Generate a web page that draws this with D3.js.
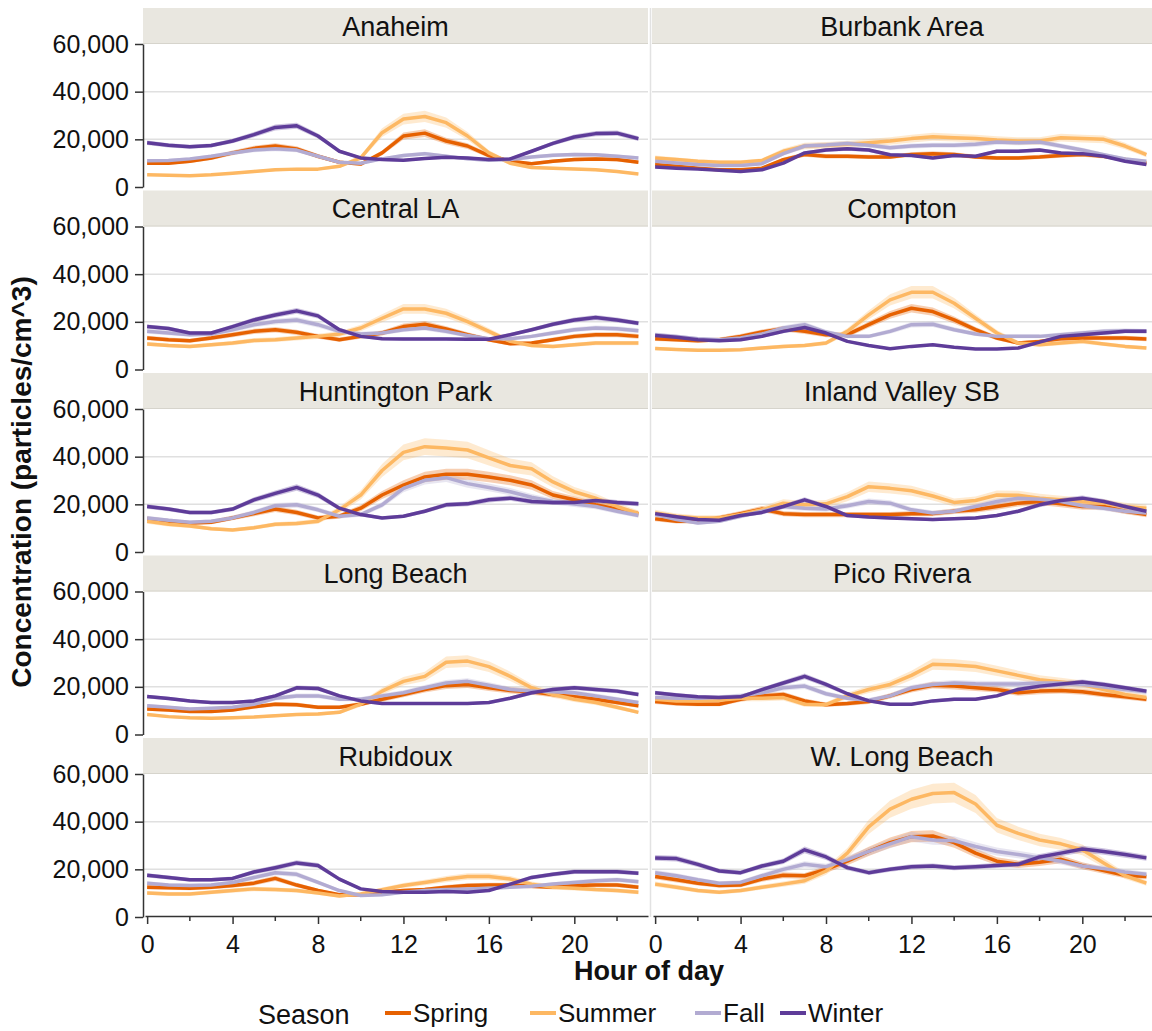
<!DOCTYPE html>
<html>
<head>
<meta charset="utf-8">
<script src="https://cdn.jsdelivr.net/npm/d3@7"></script>
<style>
  body { margin: 0; background: #fff; }
  svg { font-family: "Liberation Sans", Arial, sans-serif; }
</style>
</head>
<body>
<script>
// values in thousands of particles/cm^3, hours 0..23, order: Spring, Summer, Fall, Winter
var seasons = ["Spring", "Summer", "Fall", "Winter"];
var colors = ["#e66101", "#fdb863", "#b2abd2", "#5e3c99"];
var hourTicks = [0, 4, 8, 12, 16, 20];
var minorTicks = [2, 6, 10, 14, 18, 22];
var yTicks = [0, 20, 40, 60];

var anaheim = [
  [10, 10, 10.8, 12.2, 14.3, 16.2, 17.2, 16, 12.9, 10.4, 9.6, 14.3, 21.4, 22.6, 19.3, 17.2, 13.2, 10.8, 9.8, 10.8, 11.5, 11.8, 11.5, 10.4],
  [5.1, 4.9, 4.7, 5.1, 5.8, 6.5, 7.2, 7.5, 7.5, 8.7, 12.2, 22.8, 28.5, 29.6, 27, 21.4, 14.3, 10, 8.2, 7.9, 7.6, 7.2, 6.5, 5.5],
  [11, 11.1, 11.8, 12.9, 14.3, 15.5, 16, 15.5, 12.9, 10.4, 10, 11.8, 13.2, 14, 12.9, 11.8, 11.2, 11.5, 12.6, 13.3, 13.6, 13.5, 12.9, 12.2],
  [18.6, 17.5, 16.9, 17.4, 19.3, 22, 25, 25.7, 21.4, 15, 12.2, 11.5, 11.2, 12, 12.5, 12.2, 11.5, 11.8, 15, 18.3, 21, 22.4, 22.6, 20.3]
];
var burbank = [
  [9.4, 8.7, 7.9, 7.2, 7.2, 7.9, 11.5, 13.6, 12.9, 12.9, 12.6, 12.6, 13.6, 14, 13.6, 12.6, 12.2, 12.2, 12.6, 13.2, 13.6, 12.9, 11.5, 10],
  [12.2, 11.5, 10.8, 10.4, 10.4, 11.1, 15, 17.2, 17.5, 17.9, 18.6, 19.3, 20.3, 21.1, 20.7, 20.3, 19.7, 19.3, 19.3, 20.7, 20.3, 20, 17.2, 13.6],
  [10.8, 10.1, 9.4, 9, 9, 9.8, 14, 17.2, 17.6, 18.3, 17.5, 16.5, 17.2, 17.5, 17.5, 17.9, 18.9, 18.6, 18.9, 17.2, 15.5, 13.6, 11.8, 10.8],
  [8.4, 7.9, 7.5, 7, 6.5, 7.2, 10, 14.3, 15.5, 16, 15.5, 13.5, 13.2, 12.2, 13.2, 12.9, 15, 15, 15.5, 14.3, 14, 12.9, 10.8, 9.4]
];
var centralLA = [
  [13.2, 12.5, 12.1, 13.2, 14.6, 16, 16.7, 15.6, 13.9, 12.5, 13.9, 15.3, 18, 19, 17, 14.6, 12.5, 10.8, 11.1, 12.5, 13.9, 14.6, 14.6, 13.9],
  [10.7, 10.1, 9.7, 10.4, 11.1, 12.2, 12.5, 13.2, 13.9, 14.9, 17.4, 21.5, 25.4, 25.4, 23.6, 20.1, 16, 11.8, 10.1, 9.7, 10.4, 11.1, 11.1, 11.1],
  [16, 15.3, 14.6, 14.9, 16.7, 18.8, 20.1, 20.8, 18.8, 16, 14.9, 15.3, 16.7, 17.4, 16, 14.3, 12.9, 12.9, 13.9, 15.3, 16.7, 17.4, 17.1, 16.3],
  [18, 17.2, 15.3, 15.3, 18, 20.8, 22.9, 24.6, 22.5, 16.7, 13.9, 12.9, 12.8, 12.8, 12.8, 12.7, 12.7, 14.6, 16.7, 19, 20.8, 21.8, 20.8, 19.4]
];
var compton = [
  [12.9, 12.5, 12.1, 12.5, 13.9, 15.7, 17.1, 16, 14.6, 14.6, 18.8, 22.9, 25.7, 24.3, 20.8, 16.7, 13.2, 11.1, 11.8, 12.9, 13.2, 13.2, 13.2, 12.8],
  [8.8, 8.4, 8.1, 8.1, 8.3, 9, 9.7, 10.1, 11.1, 16, 22.9, 29.2, 32.4, 32.4, 27.8, 21.5, 15.3, 11.1, 10.4, 11.1, 11.8, 10.7, 9.7, 9],
  [14.6, 13.9, 12.9, 12.5, 13.2, 14.9, 17.4, 18.8, 15.7, 13.9, 13.9, 16, 18.8, 19, 16.7, 14.9, 13.9, 13.9, 13.9, 14.6, 15.3, 16, 16.3, 16],
  [14.3, 13.5, 12.5, 12.1, 12.5, 13.9, 16, 17.6, 15.3, 11.8, 10.1, 8.75, 9.7, 10.4, 9.3, 8.6, 8.6, 9, 11.5, 13.9, 14.6, 15.3, 16, 16]
];
var huntingtonPark = [
  [13.9, 12.9, 12.2, 12.5, 14.3, 16.1, 18, 16.6, 14.3, 15, 18.4, 23.9, 28.1, 31.5, 32.6, 32.6, 31.5, 30.1, 28.1, 23.9, 21.9, 19.8, 18, 16.1],
  [12.9, 11.6, 10.9, 9.8, 9.2, 10.2, 11.6, 12, 12.9, 17.7, 23.9, 34.2, 41.8, 44.2, 43.6, 42.8, 39.5, 36.3, 34.9, 29.4, 25.3, 22.6, 19.1, 16.1],
  [14.3, 13.3, 12.5, 12.9, 14.3, 16.6, 19.4, 19.8, 17.7, 15, 15.7, 19.8, 26.7, 30.1, 31.2, 28.7, 27.1, 25.3, 23, 21.2, 20.1, 19.1, 17.1, 15.3],
  [19.1, 18, 16.6, 16.6, 18, 21.9, 24.6, 27.1, 23.9, 18.4, 15.7, 14.3, 15, 17.1, 19.8, 20.2, 21.9, 22.6, 21.2, 20.8, 20.8, 21.6, 20.8, 20.2]
];
var inlandValley = [
  [13.9, 12.9, 12.9, 14.3, 16.1, 18, 16.1, 15.7, 15.7, 15.7, 15.7, 15.7, 16.1, 16.1, 17.1, 17.7, 19.1, 20.5, 21.2, 20.2, 19.1, 19.1, 17.1, 15.7],
  [16.4, 15, 14.3, 14.3, 15.7, 17.7, 20.5, 19.8, 20.2, 23.2, 27.4, 26.7, 25.7, 23.5, 20.8, 21.6, 23.9, 23.8, 22.6, 21.9, 21.2, 20.5, 19.1, 18.4],
  [15.7, 13.6, 12.2, 12.9, 15, 17.1, 19.1, 18.4, 18, 19.4, 21.2, 20.5, 17.7, 16.4, 17.1, 19.1, 21.2, 22.6, 22.1, 21.2, 19.4, 18.4, 17.1, 16.4],
  [16.1, 14.8, 13.6, 13.3, 15.3, 16.6, 19.1, 21.9, 19.1, 15.3, 14.7, 14.3, 14, 13.6, 14, 14.3, 15.3, 17.1, 19.8, 21.6, 22.6, 21.2, 19.1, 17.1]
];
var longBeach = [
  [10.7, 10.3, 9.7, 9.7, 10.3, 11.6, 12.7, 12.5, 11.4, 11.4, 12.7, 14.8, 16.8, 18.9, 20.5, 21, 19.6, 18.5, 17.9, 16.8, 15.8, 14.8, 13.4, 12.1],
  [8.4, 7.5, 7, 6.8, 7, 7.3, 7.9, 8.4, 8.6, 9.3, 12.7, 18.2, 22.3, 24.4, 30.3, 30.8, 28.5, 24.4, 19.6, 16.8, 14.8, 13.4, 11.4, 9.3],
  [12.1, 11.4, 10.7, 11, 11.4, 12.7, 15.2, 16.2, 16.2, 14.8, 14.8, 16.2, 17.5, 19.6, 21.6, 22.3, 20.7, 18.9, 18.2, 17.9, 17.5, 16.2, 14.8, 13.4],
  [15.9, 15.1, 14.1, 13.4, 13.4, 14.1, 16.2, 19.6, 19.3, 16.2, 14.1, 13, 13, 13, 13, 13, 13.4, 15.2, 17.5, 18.9, 19.6, 18.9, 18.2, 16.8]
];
var picoRivera = [
  [13.8, 13, 12.7, 12.7, 14.8, 16.2, 16.8, 14.1, 12.5, 13, 13.8, 16.2, 18.9, 20.7, 20.3, 19.6, 18.9, 17.5, 18.2, 18.5, 17.9, 16.8, 15.8, 14.8],
  [14.8, 14.1, 14.1, 14.4, 15.2, 15.2, 15.5, 12.7, 12.5, 16.2, 18.9, 21, 24.8, 29.5, 29.2, 28.5, 26.7, 24.8, 23, 22, 21, 18.9, 16.8, 15.5],
  [15.5, 15.2, 15.2, 15.5, 16.2, 17.5, 19.6, 20.3, 17.1, 15.2, 14.4, 16.2, 19.6, 21, 21.6, 21.3, 21.2, 21.2, 21.6, 21.6, 21, 19.9, 18.9, 17.9],
  [17.5, 16.6, 15.8, 15.5, 15.8, 18.8, 21.6, 24.4, 21, 17.1, 14.1, 12.7, 12.7, 14.1, 14.8, 14.8, 16.2, 18.9, 20.3, 21.2, 22, 21, 19.6, 18.2]
];
var rubidoux = [
  [12.5, 12.3, 12.1, 12.5, 13.2, 14.2, 16.2, 13.4, 11.1, 9.3, 9.3, 10.4, 11.1, 11.5, 12.5, 13.2, 13.4, 13.4, 12.9, 12.5, 13.2, 13.4, 13.4, 12.5],
  [10.1, 9.7, 9.7, 10.4, 11.1, 11.8, 11.5, 11.1, 10.1, 8.8, 9.7, 11.5, 13.2, 14.5, 15.9, 17, 17, 15.9, 13.8, 12.5, 12.1, 11.5, 11.1, 10.4],
  [14.2, 13.4, 13.2, 13.4, 14.5, 16.6, 18.6, 17.9, 14.5, 11.1, 9, 9.3, 10.4, 11.1, 11.5, 11.8, 12.1, 12.5, 12.9, 13.8, 14.5, 15.2, 15.6, 14.8],
  [17.5, 16.6, 15.6, 15.6, 16.2, 18.9, 20.7, 22.7, 21.6, 15.9, 11.8, 10.7, 10.4, 10.4, 10.7, 10.4, 11.1, 13.8, 16.6, 17.9, 19, 19, 19, 18.4]
];
var wLongBeach = [
  [17, 15.6, 14.2, 13.2, 13.4, 15.9, 17.5, 17.3, 20, 23.4, 27.5, 31.2, 33.7, 34, 31.2, 26.8, 23.4, 22.1, 23, 24.2, 21.5, 19.5, 17.5, 17],
  [13.8, 12.5, 11.1, 10.4, 11.1, 12.5, 13.8, 15.2, 19.3, 26.8, 37.8, 45.3, 49.4, 51.8, 52.2, 47.4, 38.5, 35.1, 32.3, 30.7, 28.2, 22.7, 17.3, 14.2],
  [18.6, 17.3, 15.6, 14.2, 14.5, 17.3, 20, 22.1, 21.1, 24.1, 27.5, 30.7, 33.7, 32.3, 32, 29.6, 27.5, 26.2, 24.8, 23.4, 21.4, 20.3, 18.9, 17.9],
  [24.8, 24.5, 22.1, 19.3, 18.6, 21.4, 23.4, 28.2, 25.2, 20.7, 18.6, 20, 21.1, 21.4, 20.7, 21.1, 21.6, 22.1, 25.2, 26.8, 28.5, 27.5, 26.2, 24.8]
];

var siteNames = ["Anaheim", "Burbank Area", "Central LA", "Compton", "Huntington Park",
  "Inland Valley SB", "Long Beach", "Pico Rivera", "Rubidoux", "W. Long Beach"];
var siteData = [anaheim, burbank, centralLA, compton, huntingtonPark,
  inlandValley, longBeach, picoRivera, rubidoux, wLongBeach];
// relative half-width of the shaded interval per season
var bandRel = [0.07, 0.08, 0.06, 0.05];

var width = 1152, height = 1031;
var colX = [145, 653], panelW = 503;
var plotH = 143, stripH = 36, rowStep = 182.5, firstBottom = 187;

var svg = d3.select("body").append("svg")
    .attr("width", width)
    .attr("height", height);

// column separator
svg.append("line")
    .attr("x1", 650.5).attr("x2", 650.5)
    .attr("y1", 8).attr("y2", 917)
    .attr("stroke", "#e2e2e2").attr("stroke-width", 1.5);

var fmt = d3.format(",");

siteNames.forEach(function(name, i) {
    var col = i % 2, row = Math.floor(i / 2);
    var x0 = colX[col];
    var bottom = firstBottom + rowStep * row;
    var top = bottom - plotH;

    var x = d3.scaleLinear().domain([-0.1, 23.45]).range([x0, x0 + panelW]);
    var y = d3.scaleLinear().domain([0, 60]).range([bottom, top]);

    var g = svg.append("g");

    // strip header
    g.append("rect")
        .attr("x", col == 0 ? 143 : 652)
        .attr("y", top - stripH)
        .attr("width", col == 0 ? 505 : 502)
        .attr("height", stripH)
        .attr("fill", "#e9e7e0");
    g.append("line")
        .attr("x1", col == 0 ? 143 : 652).attr("x2", col == 0 ? 648 : 1152)
        .attr("y1", top - 0.5).attr("y2", top - 0.5)
        .attr("stroke", "#d6d4cc");
    g.append("text")
        .attr("x", (col == 0 ? 143 + 505 / 2 : 652 + 500 / 2))
        .attr("y", top - stripH / 2 + 9.5)
        .attr("text-anchor", "middle")
        .attr("font-size", 27)
        .attr("fill", "#111")
        .text(name);

    // gridlines
    g.selectAll(".grid")
        .data([20, 40])
        .enter().append("line")
        .attr("x1", col == 0 ? 143 : 652).attr("x2", col == 0 ? 648 : 1152)
        .attr("y1", function(d) { return y(d); })
        .attr("y2", function(d) { return y(d); })
        .attr("stroke", "#e0e0e0").attr("stroke-width", 1.5);

    // y axis on the left column
    if (col == 0) {
        var ya = g.append("g")
            .attr("transform", "translate(143,0)")
            .call(d3.axisLeft(y).tickValues(yTicks)
                .tickFormat(function(d) { return fmt(d * 1000); })
                .tickSize(8).tickSizeOuter(0).tickPadding(6));
        ya.select(".domain").attr("stroke", "#333").attr("stroke-width", 1.5);
        ya.selectAll(".tick line").attr("stroke", "#333").attr("stroke-width", 1.5);
        ya.selectAll("text").attr("font-size", 25).attr("fill", "#111")
            .attr("font-family", "Liberation Sans, Arial, sans-serif");
    }

    var data = siteData[i];

    var area = d3.area()
        .x(function(d, h) { return x(h); })
        .y0(function(d) { return y(d[0]); })
        .y1(function(d) { return y(d[1]); });
    var line = d3.line()
        .x(function(d, h) { return x(h); })
        .y(function(d) { return y(d); });

    data.forEach(function(vals, s) {
        g.append("path")
            .datum(vals.map(function(v) { return [v * (1 - bandRel[s]), v * (1 + bandRel[s])]; }))
            .attr("d", area)
            .attr("fill", colors[s])
            .attr("opacity", 0.3);
    });
    data.forEach(function(vals, s) {
        g.append("path")
            .datum(vals)
            .attr("d", line)
            .attr("fill", "none")
            .attr("stroke", colors[s])
            .attr("stroke-width", 3.5)
            .attr("stroke-linejoin", "round");
    });

    // x axis on the bottom row
    if (row == 4) {
        var xa = g.append("g")
            .attr("transform", "translate(0," + (bottom - 1) + ")")
            .call(d3.axisBottom(x).tickValues(hourTicks)
                .tickSize(8).tickSizeOuter(0).tickPadding(11));
        xa.select(".domain").attr("stroke", "#333").attr("stroke-width", 1.5);
        xa.selectAll(".tick line").attr("stroke", "#333").attr("stroke-width", 1.5);
        xa.selectAll("text").attr("font-size", 25).attr("fill", "#111")
            .attr("font-family", "Liberation Sans, Arial, sans-serif");
        xa.selectAll(".minor")
            .data(minorTicks)
            .enter().append("line")
            .attr("x1", function(d) { return x(d); })
            .attr("x2", function(d) { return x(d); })
            .attr("y1", 0).attr("y2", 5)
            .attr("stroke", "#333").attr("stroke-width", 1.5);
    }
});

// axis titles
svg.append("text")
    .attr("transform", "translate(31,482) rotate(-90)")
    .attr("text-anchor", "middle")
    .attr("font-size", 28)
    .attr("font-weight", "bold")
    .attr("fill", "#111")
    .text("Concentration (particles/cm^3)");

svg.append("text")
    .attr("x", 649)
    .attr("y", 980)
    .attr("text-anchor", "middle")
    .attr("font-size", 27)
    .attr("font-weight", "bold")
    .attr("fill", "#111")
    .text("Hour of day");

// legend
var legend = svg.append("g");
legend.append("text")
    .attr("x", 258).attr("y", 1024)
    .attr("font-size", 27).attr("fill", "#111")
    .text("Season");
var legendX = [385, 530, 695, 780];
seasons.forEach(function(s, k) {
    legend.append("line")
        .attr("x1", legendX[k]).attr("x2", legendX[k] + 26)
        .attr("y1", 1013).attr("y2", 1013)
        .attr("stroke", colors[k]).attr("stroke-width", 4);
    legend.append("text")
        .attr("x", legendX[k] + 28).attr("y", 1022)
        .attr("font-size", 26).attr("fill", "#111")
        .text(s);
});
</script>
</body>
</html>
